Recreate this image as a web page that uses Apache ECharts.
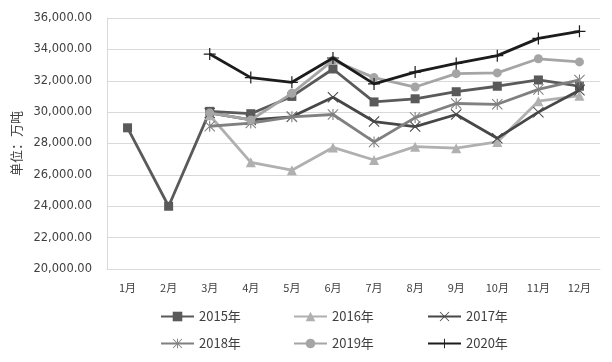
<!DOCTYPE html>
<html><head><meta charset="utf-8">
<script src="https://cdn.jsdelivr.net/npm/echarts@6/dist/echarts.min.js"></script>
<style>html,body{margin:0;padding:0;background:#fff}#c{width:612px;height:362px}</style>
</head><body><div id="c"></div>
<script>
var months = ['1月','2月','3月','4月','5月','6月','7月','8月','9月','10月','11月','12月'];
var yTicks = [20000,22000,24000,26000,28000,30000,32000,34000,36000];
var seriesNames = ['2015年','2016年','2017年','2018年','2019年','2020年'];
var v2015 = [29000,24000,30050,29900,31000,32750,30650,30850,31300,31650,32050,31650];
var v2016 = [null,null,29800,26800,26300,27750,26950,27800,27700,28100,30700,31050];
var v2017 = [null,null,29950,29500,29700,30950,29400,29080,29850,28340,30000,31400];
var v2018 = [null,null,29100,29300,29700,29850,28100,29650,30550,30500,31450,32050];
var v2019 = [null,null,29950,29500,31200,33300,32200,31600,32450,32500,33400,33200];
var v2020 = [null,null,33700,32200,31900,33450,31800,32550,33100,33600,34700,35150];

var plusPath = 'path://M-0.6,-6 L0.6,-6 L0.6,6 L-0.6,6 Z M-6,-0.6 L6,-0.6 L6,0.6 L-6,0.6 Z';
var xPath = 'path://M-5.2,-6 L-6,-5.2 L5.2,6 L6,5.2 Z M5.2,-6 L6,-5.2 L-5.2,6 L-6,5.2 Z';
var starPath = 'path://M-5.2,-6 L-6,-5.2 L5.2,6 L6,5.2 Z M5.2,-6 L6,-5.2 L-5.2,6 L-6,5.2 Z M-0.6,-6 L0.6,-6 L0.6,6 L-0.6,6 Z';

var styles = [
  {data:v2015, color:'#5a5a5a', symbol:'rect', size:9},
  {data:v2016, color:'#b0b0b0', symbol:'triangle', size:10},
  {data:v2017, color:'#474747', symbol:xPath, size:11},
  {data:v2018, color:'#808080', symbol:starPath, size:11},
  {data:v2019, color:'#a5a5a5', symbol:'circle', size:9},
  {data:v2020, color:'#1c1c1c', symbol:plusPath, size:12}
];

var legendPos = [
  {left:160, top:310},{left:293, top:310},{left:427, top:310},
  {left:160, top:337},{left:293, top:337},{left:427, top:337}
];

var series = styles.map(function(s,i){
  return {
    name: seriesNames[i], type:'line', data:s.data,
    symbol:s.symbol, symbolSize:s.size, showSymbol:true,
    lineStyle:{color:s.color, width:2.8},
    itemStyle:{color:s.color},
    connectNulls:false, animation:false, z: 2+i
  };
});

var chart = echarts.init(document.getElementById('c'), null, {renderer:'canvas'});
chart.setOption({
  animation:false,
  backgroundColor:'#fff',
  grid:{left:107, right:12, top:18, bottom:93},
  legend: legendPos.map(function(p,i){
    return {data:[seriesNames[i]], left:p.left, top:p.top, itemWidth:33, itemHeight:12, itemGap:4,
      textStyle:{color:'#404040', fontSize:13, fontFamily:'"Noto Sans CJK SC", sans-serif'}, padding:0};
  }),
  xAxis:{type:'category', data:months, boundaryGap:true,
    axisLine:{show:true, lineStyle:{color:'#d9d9d9'}},
    axisTick:{show:false},
    axisLabel:{color:'#404040', fontSize:11, margin:13, fontFamily:'"Noto Sans CJK SC", sans-serif'}},
  yAxis:{type:'value', min:yTicks[0], max:yTicks[yTicks.length-1], interval:2000,
    name:'单位：万吨', nameLocation:'middle', nameGap:84, nameRotate:90,
    nameTextStyle:{color:'#404040', fontSize:13, fontFamily:'"Noto Sans CJK SC", sans-serif'},
    axisLine:{show:true, lineStyle:{color:'#d9d9d9'}},
    axisTick:{show:false},
    splitLine:{lineStyle:{color:'#d9d9d9'}},
    axisLabel:{color:'#404040', fontSize:11.5, margin:15, fontFamily:'"DejaVu Sans", sans-serif',
      formatter:function(v){return v.toLocaleString('en-US',{minimumFractionDigits:2,maximumFractionDigits:2});}}},
  series: series
});
</script></body></html>
